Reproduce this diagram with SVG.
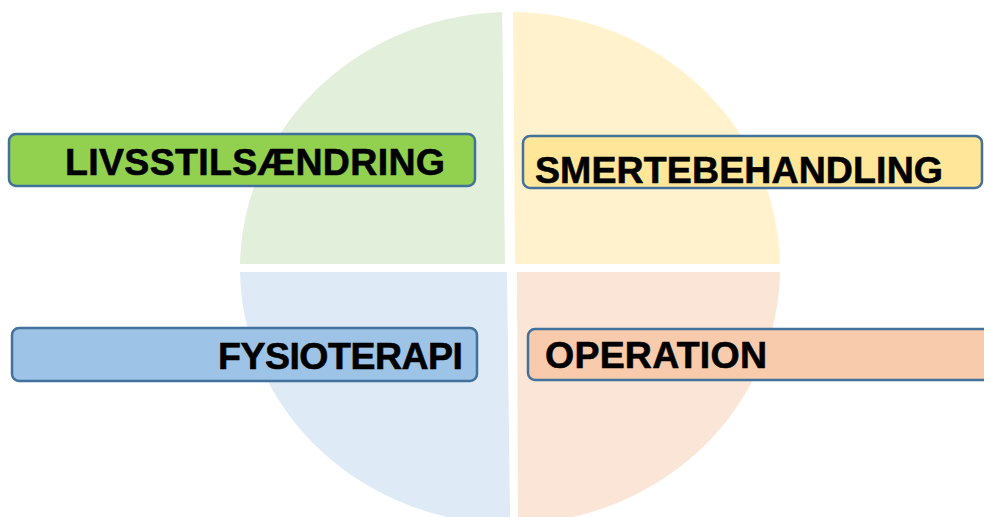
<svg xmlns="http://www.w3.org/2000/svg" width="984" height="517" viewBox="0 0 984 517">
  <style>
    .box { stroke: #41719C; stroke-width: 2.5; }
    .lbl { font-family: "Liberation Sans", Arial, sans-serif; font-weight: bold; font-size: 37.5px; fill: #000; stroke: #000; stroke-width: 0.6; }
  </style>
  <defs>
    <clipPath id="q-tl"><polygon points="0,0 502,0 505,264 0,264"/></clipPath>
    <clipPath id="q-tr"><polygon points="513,0 984,0 984,264 515,264"/></clipPath>
    <clipPath id="q-bl"><polygon points="0,272 507,272 510,517 0,517"/></clipPath>
    <clipPath id="q-br"><polygon points="517,272 984,272 984,517 518,517"/></clipPath>
  </defs>

  <!-- four quarters of the background disc -->
  <g id="quarters">
    <ellipse cx="510" cy="268" rx="270" ry="256" fill="#E2EFDA" clip-path="url(#q-tl)"/>
    <ellipse cx="510" cy="268" rx="270" ry="256" fill="#FFF2CC" clip-path="url(#q-tr)"/>
    <ellipse cx="510" cy="268" rx="270" ry="256" fill="#DEEAF6" clip-path="url(#q-bl)"/>
    <ellipse cx="510" cy="268" rx="270" ry="256" fill="#FBE5D6" clip-path="url(#q-br)"/>
  </g>

  <g id="connectors"></g>

  <g id="livsstil">
    <rect class="box" x="9" y="134" width="466" height="52" rx="7" fill="#92D050"/>
    <text class="lbl" x="65" y="175" textLength="380" lengthAdjust="spacing">LIVSSTILSÆNDRING</text>
  </g>

  <g id="smerte">
    <rect class="box" x="523" y="136" width="459" height="52" rx="7" fill="#FFE699"/>
    <text class="lbl" x="535" y="183" textLength="408" lengthAdjust="spacing">SMERTEBEHANDLING</text>
  </g>

  <g id="fysio">
    <rect class="box" x="12" y="328" width="465" height="53" rx="7" fill="#9DC3E6"/>
    <text class="lbl" x="218" y="369" textLength="245" lengthAdjust="spacing">FYSIOTERAPI</text>
  </g>

  <g id="operation">
    <rect class="box" x="528" y="329" width="470" height="51" rx="7" fill="#F8CBAD"/>
    <text class="lbl" x="545" y="368" textLength="222" lengthAdjust="spacing">OPERATION</text>
  </g>
</svg>
